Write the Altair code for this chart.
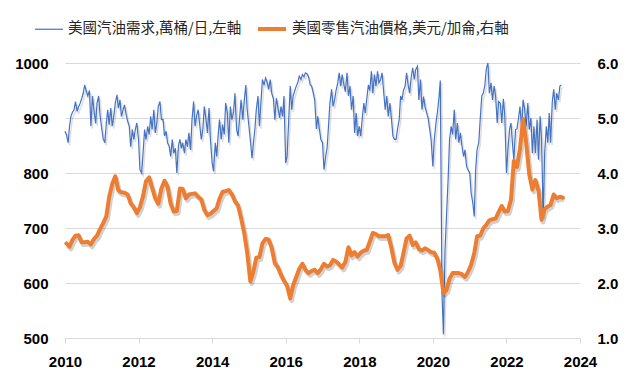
import altair as alt
import pandas as pd

# ---- data ----
S1 = "美國汽油需求,萬桶/日,左軸"
S2 = "美國零售汽油價格,美元/加侖,右軸"

# gasoline demand, semi-monthly (1st & 15th), 10k barrels/day
d2010 = [876, 870, 855, 885, 903, 910, 915, 930, 912, 920, 927, 935, 945, 960, 948, 940, 950, 885, 940, 915, 890, 927, 940, 905]
d2011 = [880, 862, 855, 890, 915, 888, 918, 885, 903, 927, 942, 918, 933, 903, 915, 924, 905, 894, 885, 848, 879, 861, 880, 891]
d2012 = [861, 806, 800, 836, 879, 861, 885, 870, 903, 879, 915, 873, 891, 921, 930, 897, 897, 867, 876, 855, 848, 830, 861, 836]
d2013 = [845, 800, 850, 861, 845, 855, 836, 861, 848, 873, 842, 897, 930, 885, 905, 915, 885, 861, 880, 921, 897, 873, 918, 861]
d2014 = [818, 803, 855, 830, 867, 897, 861, 888, 870, 927, 909, 855, 921, 897, 910, 945, 879, 867, 900, 933, 897, 930, 960, 915]
d2015 = [885, 860, 827, 855, 879, 915, 940, 885, 930, 970, 960, 973, 965, 952, 970, 945, 935, 897, 936, 920, 900, 921, 903, 940]
d2016 = [818, 830, 900, 958, 915, 940, 950, 958, 965, 976, 970, 979, 975, 982, 980, 975, 960, 958, 945, 933, 880, 903, 879, 861]
d2017 = [855, 806, 830, 845, 885, 927, 952, 921, 933, 950, 964, 982, 958, 979, 960, 948, 982, 940, 958, 915, 940, 873, 909, 867]
d2018 = [885, 867, 903, 927, 909, 933, 960, 950, 985, 945, 979, 958, 985, 964, 970, 982, 945, 915, 940, 903, 927, 900, 867, 861]
d2019 = [861, 880, 897, 940, 933, 950, 958, 982, 960, 945, 975, 991, 970, 988, 994, 933, 970, 915, 939, 921, 909, 900, 879, 860]
d2020 = [812, 860, 891, 910, 935, 968, 580, 507, 660, 720, 790, 861, 885, 870, 915, 861, 891, 855, 873, 850, 830, 842, 812, 806]
d2021 = [800, 764, 745, 721, 806, 842, 855, 897, 940, 945, 960, 990, 1000, 945, 964, 933, 958, 940, 891, 930, 927, 891, 935, 905]
d2022 = [800, 842, 880, 891, 855, 824, 879, 880, 900, 921, 880, 933, 915, 885, 927, 879, 900, 836, 885, 836, 897, 824, 903, 860]
d2023 = [720, 836, 885, 855, 909, 855, 930, 952, 915, 945, 933, 958, 960]

# retail gasoline price, monthly (mid-month), USD/gallon
p2010 = [2.72, 2.66, 2.78, 2.86, 2.87, 2.74, 2.74, 2.75, 2.70, 2.80, 2.86, 2.98]
p2011 = [3.09, 3.21, 3.56, 3.80, 3.94, 3.68, 3.65, 3.64, 3.61, 3.45, 3.38, 3.27]
p2012 = [3.38, 3.58, 3.85, 3.92, 3.73, 3.54, 3.44, 3.72, 3.86, 3.75, 3.44, 3.30]
p2013 = [3.31, 3.72, 3.71, 3.54, 3.61, 3.62, 3.63, 3.57, 3.52, 3.33, 3.23, 3.26]
p2014 = [3.31, 3.36, 3.53, 3.66, 3.67, 3.69, 3.62, 3.49, 3.41, 3.18, 2.91, 2.55]
p2015 = [2.03, 2.21, 2.46, 2.47, 2.72, 2.80, 2.79, 2.64, 2.36, 2.29, 2.15, 2.04]
p2016 = [1.95, 1.72, 1.96, 2.11, 2.26, 2.35, 2.24, 2.18, 2.22, 2.24, 2.18, 2.25]
p2017 = [2.35, 2.30, 2.32, 2.42, 2.39, 2.34, 2.28, 2.38, 2.65, 2.50, 2.56, 2.48]
p2018 = [2.55, 2.59, 2.60, 2.75, 2.91, 2.89, 2.85, 2.85, 2.85, 2.87, 2.64, 2.37]
p2019 = [2.24, 2.31, 2.54, 2.81, 2.86, 2.69, 2.74, 2.62, 2.59, 2.63, 2.60, 2.56]
p2020 = [2.55, 2.44, 2.23, 1.82, 1.87, 2.08, 2.18, 2.18, 2.18, 2.16, 2.11, 2.20]
p2021 = [2.33, 2.54, 2.85, 2.86, 2.99, 3.06, 3.14, 3.16, 3.17, 3.29, 3.40, 3.30]
p2022 = [3.31, 3.52, 4.22, 4.11, 4.44, 4.98, 4.56, 3.98, 3.70, 3.87, 3.68, 3.15]
p2023 = [3.34, 3.39, 3.42, 3.61, 3.54, 3.57, 3.55]

years = [2010, 2012, 2014, 2016, 2018, 2020, 2022, 2024]
left_ticks = [500, 600, 700, 800, 900, 1000]
right_ticks = [1.0, 2.0, 3.0, 4.0, 5.0, 6.0]

demand = (d2010 + d2011 + d2012 + d2013 + d2014 + d2015 + d2016 + d2017
          + d2018 + d2019 + d2020 + d2021 + d2022 + d2023)
price = (p2010 + p2011 + p2012 + p2013 + p2014 + p2015 + p2016 + p2017
         + p2018 + p2019 + p2020 + p2021 + p2022 + p2023)

demand_dates = pd.date_range("2010-01-01", periods=len(demand), freq="SMS")
price_dates = pd.date_range("2010-01-01", periods=len(price), freq="MS") + pd.Timedelta(days=14)

df1 = pd.DataFrame({"date": demand_dates.strftime("%Y-%m-%d"), "value": demand, "series": S1})
df2 = pd.DataFrame({"date": price_dates.strftime("%Y-%m-%d"), "value": price, "series": S2})

BLUE = "#4472C4"
ORANGE = "#ED7D31"
GRID = "#d9d9d9"

x_enc = alt.X(
    "date:T",
    scale=alt.Scale(domain=[alt.DateTime(year=2010, month=1, date=1),
                            alt.DateTime(year=2024, month=1, date=1)]),
    axis=alt.Axis(
        values=[alt.DateTime(year=y, month=1, date=1) for y in years],
        format="%Y", title=None, grid=False, labelFlush=False,
        domainColor=GRID, tickColor=GRID, tickSize=5, labelPadding=11,
    ),
)

y_left = alt.Y(
    "value:Q",
    scale=alt.Scale(domain=[500, 1000]),
    axis=alt.Axis(orient="left", values=left_ticks, format="d", title=None, grid=True,
                  gridColor=GRID, domain=False, ticks=False, labelPadding=17),
)
y_right = alt.Y(
    "value:Q",
    scale=alt.Scale(domain=[1, 6]),
    axis=alt.Axis(orient="right", values=right_ticks, format=".1f", title=None,
                  grid=False, domain=False, ticks=False, labelPadding=17),
)

legend = alt.Legend(
    orient="none", legendX=-31, legendY=-50, direction="horizontal", title=None,
    labelFont="Noto Sans CJK TC", labelFontSize=14.5, labelColor="#262626",
    symbolType="stroke", symbolSize=784, columnPadding=8, labelOffset=4,
    labelLimit=400,
)
color_enc = alt.Color("series:N", scale=alt.Scale(domain=[S1, S2], range=[BLUE, ORANGE]),
                      legend=legend)
sw_enc = alt.StrokeWidth("series:N", scale=alt.Scale(domain=[S1, S2], range=[1.2, 4]),
                         legend=legend)

shadow1 = alt.Chart(df1).mark_line(color="#000", opacity=0.13, strokeWidth=1.5,
                                   xOffset=1.5, yOffset=2.5).encode(x=x_enc, y=y_left)
line1 = alt.Chart(df1).mark_line().encode(x=x_enc, y=y_left, color=color_enc, strokeWidth=sw_enc)

shadow2 = alt.Chart(df2).mark_line(color="#000", opacity=0.18, strokeWidth=4.5,
                                   xOffset=1.5, yOffset=2.5, strokeJoin="round").encode(x=x_enc, y=y_right)
line2 = alt.Chart(df2).mark_line(strokeJoin="round", strokeCap="round").encode(
    x=x_enc, y=y_right, color=color_enc, strokeWidth=sw_enc)

left = alt.layer(shadow1, line1)
right = alt.layer(shadow2, line2)

chart = (
    alt.layer(left, right)
    .resolve_scale(y="independent")
    .properties(
        width=515, height=275,
        autosize=alt.AutoSizeParams(type="none"),
        padding={"left": 57, "top": 55, "right": 52, "bottom": 40},
        background="white",
    )
    .configure_view(stroke=None)
    .configure_axis(labelFont="Liberation Sans", labelFontWeight="bold",
                    labelFontSize=15, labelColor="#000")
)

chart.save("out.html", embed_options={"renderer": "svg", "actions": False})
